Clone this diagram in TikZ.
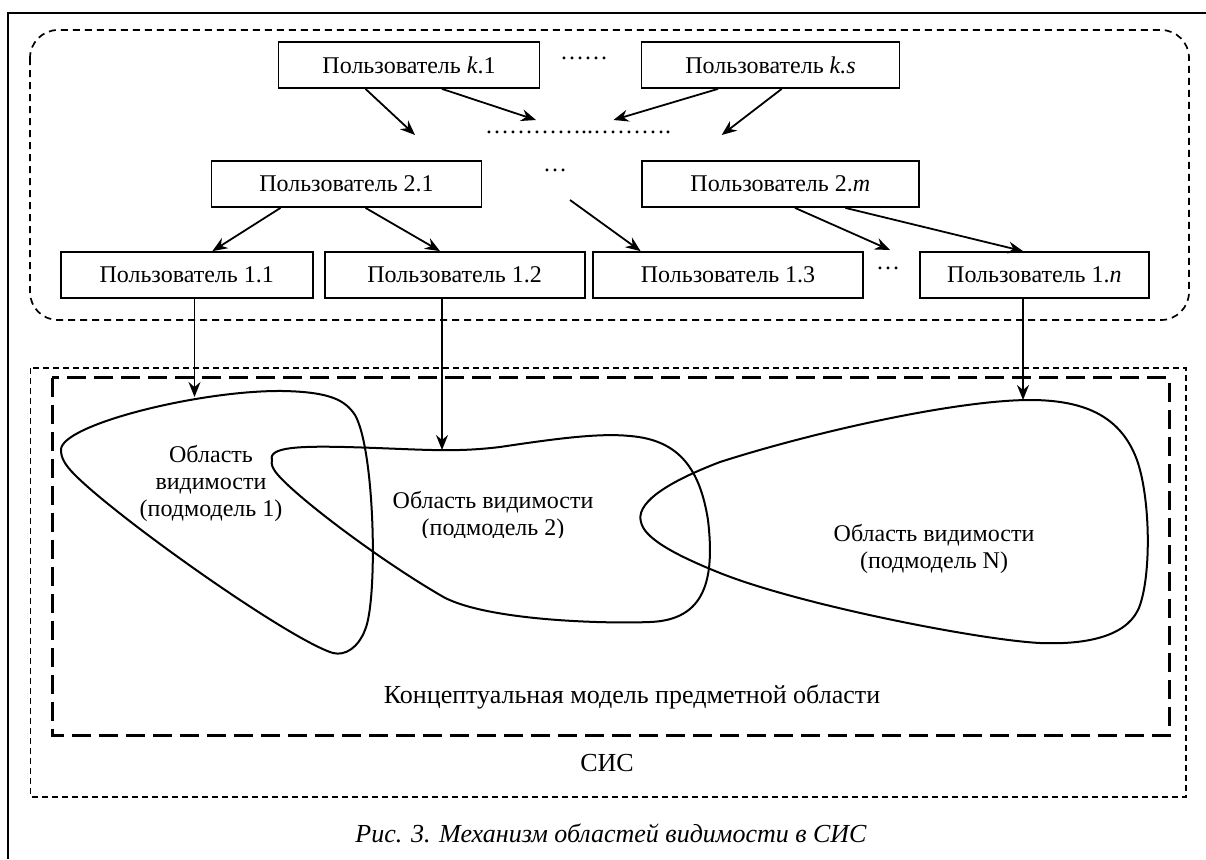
\documentclass[tikz,border=0pt]{standalone}
\usepackage{fontspec}
\setmainfont{Liberation Serif}
\usetikzlibrary{arrows.meta}
\begin{document}
\begin{tikzpicture}[x=1pt,y=-1pt,
  user/.style={draw,line width=1.8pt,minimum width=#1,minimum height=46pt,inner sep=0pt,font=\fontsize{24}{28}\selectfont},
  arr/.style={line width=1.8pt,-{Stealth[length=15pt,width=12pt,inset=5pt]}},
  blob/.style={line width=2pt},
  lbl/.style={font=\fontsize{24}{27}\selectfont,align=center,inner sep=0pt},
  dots/.style={font=\fontsize{24}{28}\selectfont,inner sep=0pt}]
\useasboundingbox (0,0) rectangle (1206,859);
\fill[white] (0,0) rectangle (1206,859);
% outer frame (partial)
\coordinate (ftl) at (8,13);
\coordinate (fbl) at (8,859);
\coordinate (ftr) at (1206,13);
\draw[line width=2pt] (fbl) -- (ftl) -- (ftr);
% users group
\draw[line width=1.7pt,dash pattern=on 7pt off 5pt,rounded corners=28pt] (30,30) rectangle (1189,320);
% top level
\node[user=261pt] (k1) at (409,65) {Пользователь \textit{k}.1};
\node[user=258pt] (ks) at (770.5,65) {Пользователь \textit{k.s}};
\node[dots] (d1) at (584,58) {……};
\node[dots] (dk) at (578,132) {…………..……….};
% level 2
\node[user=270pt] (u21) at (346.5,184) {Пользователь 2.1};
\node[user=277pt] (u2m) at (780.3,184) {Пользователь 2.\textit{m}};
\node[dots] (d2) at (555,170) {…};
% level 1
\node[user=252pt] (u11) at (186.7,275) {Пользователь 1.1};
\node[user=260pt] (u12) at (454.6,275) {Пользователь 1.2};
\node[user=270pt] (u13) at (728,275) {Пользователь 1.3};
\node[user=229pt] (u1n) at (1034.4,275) {Пользователь 1.\textit{n}};
\node[dots] (d3) at (888,268) {…};
% arrows upper
\coordinate (a1) at (415,135);
\coordinate (a2) at (536,120);
\coordinate (a3) at (613.5,120);
\coordinate (a4) at (721.7,135);
\coordinate (a5s) at (570,200);
\draw[arr] (k1.south -| 365.5,0) -- (a1);
\draw[arr] (k1.south -| 442,0) -- (a2);
\draw[arr] (ks.south -| 718,0) -- (a3);
\draw[arr] (ks.south -| 781.7,0) -- (a4);
\draw[arr] (u21.south -| 280.5,0) -- (u11.north -| 212.4,0);
\draw[arr] (u21.south -| 365.5,0) -- (u12.north -| 440,0);
\draw[arr] (a5s) -- (u13.north -| 640.6,0);
\coordinate (a6) at (890,250);
\draw[arr] (u2m.south -| 795,0) -- (a6);
\draw[arr] (u2m.south -| 845.4,0) -- (u1n.north -| 1023,0);
% SIS and conceptual model
\draw[line width=1.6pt,dash pattern=on 6pt off 4pt] (30.6,368) rectangle (1186,796.7);
\draw[line width=3pt,dash pattern=on 19pt off 8pt] (52,377.7) rectangle (1169,735.7);
\node[font=\fontsize{26}{30}\selectfont,inner sep=0pt] (cm) at (632,697) {Концептуальная модель предметной области};
\node[font=\fontsize{26}{30}\selectfont,inner sep=0pt] (sis) at (607,763) {СИС};
% blobs
\draw[blob] (61,450) .. controls (60,425) and (200,390) .. (283,391)
  .. controls (330,392) and (345,400) .. (355,415)
  .. controls (375,450) and (378,600) .. (365,630)
  .. controls (358,648) and (345,656) .. (333,653)
  .. controls (290,640) and (120,520) .. (75,475)
  .. controls (65,465) and (61,458) .. (61,450) -- cycle;
\draw[blob] (272,460) .. controls (268,447) and (300,446) .. (345,447)
  .. controls (420,449) and (450,453) .. (500,447)
  .. controls (560,438) and (600,433) .. (630,436)
  .. controls (680,440) and (700,470) .. (708,520)
  .. controls (715,580) and (705,620) .. (650,622)
  .. controls (600,624) and (480,620) .. (440,595)
  .. controls (380,560) and (300,500) .. (278,475)
  .. controls (272,468) and (271,464) .. (272,460) -- cycle;
\draw[blob] (641,522) .. controls (636,505) and (660,485) .. (720,462)
  .. controls (820,430) and (960,400) .. (1030,400)
  .. controls (1090,400) and (1120,420) .. (1135,455)
  .. controls (1150,490) and (1152,570) .. (1140,605)
  .. controls (1130,635) and (1090,645) .. (1040,643)
  .. controls (980,640) and (800,605) .. (720,573)
  .. controls (670,553) and (644,537) .. (641,522) -- cycle;
\coordinate (b1) at (194.5,397);
\coordinate (b2) at (442,450);
\coordinate (bn) at (1023,400);
\draw[arr] (u11.south -| b1) -- (b1);
\draw[arr] (u12.south -| b2) -- (b2);
\draw[arr] (u1n.south -| bn) -- (bn);
% blob labels
\node[lbl] (t1) at (211,483) {Область\\видимости\\(подмодель 1)};
\begin{scope}
\clip (380,480) rectangle (620,537);
\node[lbl] (t2) at (493,516) {Область видимости\\(подмодель 2)};
\end{scope}
\node[lbl] (tn) at (934,549) {Область видимости\\(подмодель N)};
% caption
\node[font=\fontsize{26}{30}\selectfont\itshape,inner sep=0pt] (cap) at (611,833) {Рис. 3. Механизм областей видимости в СИС};
\end{tikzpicture}
\end{document}
